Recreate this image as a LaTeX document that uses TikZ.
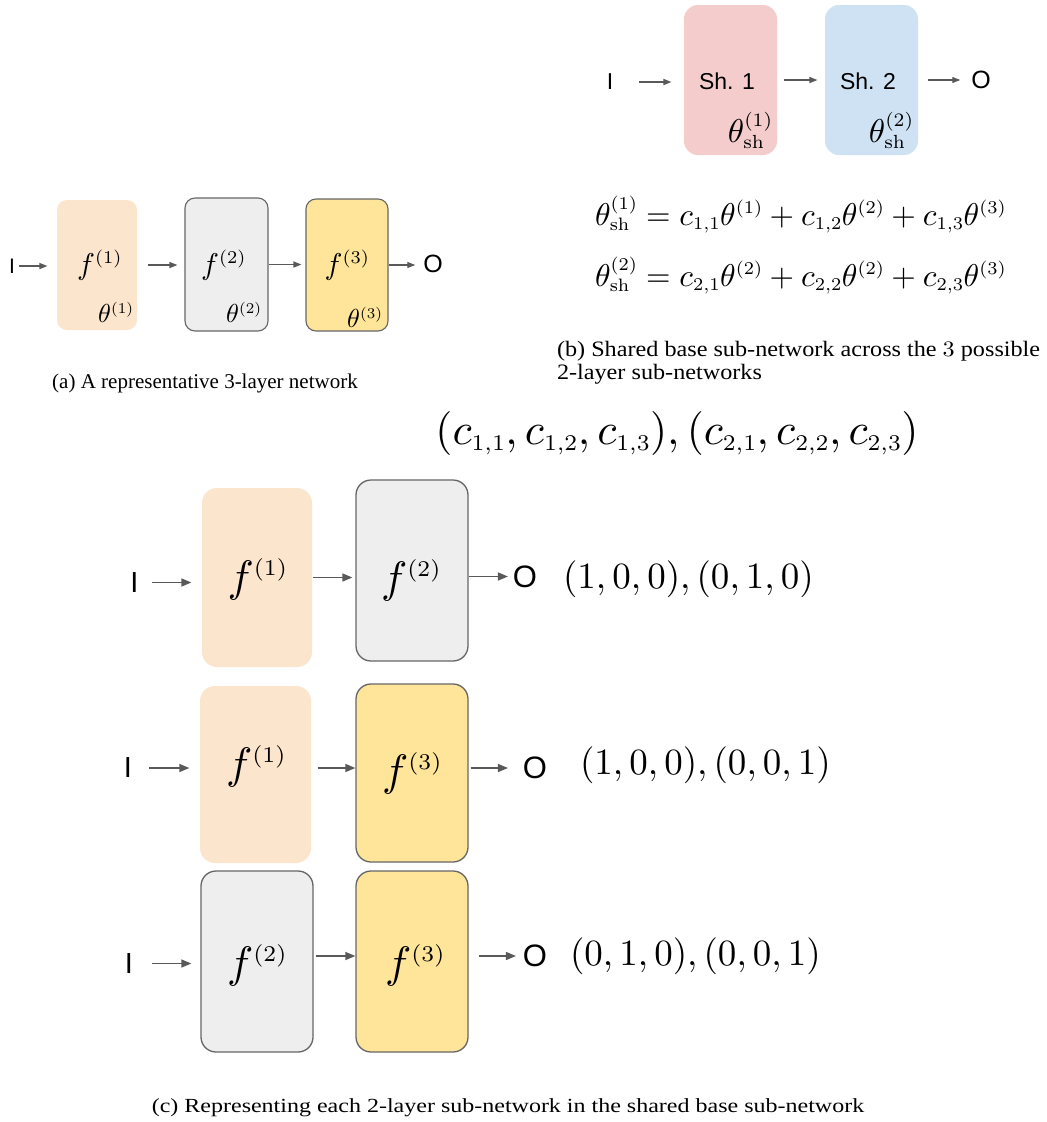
\RequirePackage{fix-cm}
\documentclass[tikz,border=0pt]{standalone}
\usepackage{amsmath}
\usepackage[no-math]{fontspec}
\newfontfamily\arialf{Liberation Sans}
\newfontfamily\timesf{Liberation Serif}
\usetikzlibrary{arrows.meta}
\DeclareFontFamily{OT1}{xcmr}{}
\DeclareFontShape{OT1}{xcmr}{m}{n}{<10> <22> <26> <30> <31.5> <33> <37> <44> cmr10 <5> <7> <11> <12> <13> <14> <15> <15.5> <18> <19> <22.5> cmr7}{}
\DeclareFontFamily{OML}{xcmm}{\skewchar\font127}
\DeclareFontShape{OML}{xcmm}{m}{it}{<10> <22> <26> <30> <31.5> <33> <37> <44> cmmi10 <5> <7> <11> <12> <13> <14> <15> <15.5> <18> <19> <22.5> cmmi7}{}
\DeclareSymbolFont{operators}{OT1}{xcmr}{m}{n}
\DeclareSymbolFont{letters}{OML}{xcmm}{m}{it}
\DeclareMathSizes{44}{44}{22.5}{15}
\DeclareMathSizes{37}{37}{22.5}{15}
\DeclareMathSizes{33}{33}{19}{13}
\DeclareMathSizes{31.5}{31.5}{18}{12}
\DeclareMathSizes{30}{30}{18}{12}
\DeclareMathSizes{26}{26}{15}{11}
\DeclareMathSizes{22}{22}{15.5}{11}
\newcommand{\fsz}[1]{\fontsize{#1}{#1}\selectfont}
\definecolor{peachc}{HTML}{FCE5CD}
\definecolor{grayc}{HTML}{EEEEEE}
\definecolor{yellowc}{HTML}{FFE599}
\definecolor{pinkc}{HTML}{F4CCCC}
\definecolor{bluec}{HTML}{CFE2F3}
\definecolor{borderc}{HTML}{666666}
\definecolor{arrowc}{HTML}{595959}
\tikzset{
  arr/.style={draw=arrowc, line width=1.2pt, -{Triangle[length=8pt,width=6pt]}},
  arrbig/.style={draw=arrowc, line width=1.4pt, -{Triangle[length=10pt,width=8pt]}},
  smallbox/.style={rounded corners=10pt, inner sep=0pt, line width=1.1pt},
  bigbox/.style={rounded corners=15pt, inner sep=0pt, line width=1.3pt},
  peachfill/.style={fill=peachc},
  grayfill/.style={fill=grayc, draw=borderc},
  yellowfill/.style={fill=yellowc, draw=borderc},
  pinkfill/.style={fill=pinkc},
  bluefill/.style={fill=bluec},
  lbl/.style={inner sep=0pt, outer sep=0pt},
}
\begin{document}
\begin{tikzpicture}[x=1pt, y=-1pt]
\useasboundingbox[fill=white] (0,0) rectangle (1047,1122);

% ---------- panel (a)
\node[smallbox, peachfill, minimum width=80pt, minimum height=130pt] (fa1) at (97,265) {};
\node[smallbox, grayfill, minimum width=83pt, minimum height=133pt] (fa2) at (226.5,264.5) {};
\node[smallbox, yellowfill, minimum width=82pt, minimum height=132pt] (fa3) at (347,265) {};
\node[lbl] (tfa1) at (99.5,265) {\fsz{30}$f^{(1)}$};
\node[lbl] (tfa2) at (223.5,265) {\fsz{30}$f^{(2)}$};
\node[lbl] (tfa3) at (347,265) {\fsz{30}$f^{(3)}$};
\node[lbl, anchor=south east] (tha1) at ([xshift=-4pt,yshift=8pt]fa1.south east) {\fsz{26}$\theta^{(1)}$};
\node[lbl, anchor=south east] (tha2) at ([xshift=-7pt,yshift=9pt]fa2.south east) {\fsz{26}$\theta^{(2)}$};
\node[lbl, anchor=south east] (tha3) at ([xshift=-6pt,yshift=4pt]fa3.south east) {\fsz{26}$\theta^{(3)}$};
\node[lbl] (Ia) at (12,266) {\arialf\fsz{21}I};
\node[lbl] (Oa) at (433,264) {\arialf\fsz{25}O};
\draw[arr, shorten <=4pt, shorten >=9pt] (Ia.east) -- (fa1.west |- Ia.east);
\draw[arr, shorten <=10pt, shorten >=7pt] (fa1.east) -- (fa2.west |- fa1.east);
\draw[arr, shorten >=4pt] (fa2.east) -- (fa3.west |- fa2.east);
\draw[arr, shorten >=8pt] (fa3.east) -- (Oa.west |- fa3.east);
\node[lbl, anchor=base] (capa) at (205,388) {\timesf\fsz{21}(a) A representative 3-layer network};

% ---------- panel (b)
\node[smallbox, rounded corners=14pt, pinkfill, minimum width=93pt, minimum height=150pt] (sh1) at (730.5,80) {};
\node[smallbox, rounded corners=14pt, bluefill, minimum width=93pt, minimum height=150pt] (sh2) at (871.5,80) {};
\node[lbl] (tsh1) at (727,81) {\arialf\fsz{23}Sh. 1};
\node[lbl] (tsh2) at (868,81) {\arialf\fsz{23}Sh. 2};
\node[lbl, anchor=south east] (thsh1) at ([xshift=-5pt,yshift=7pt]sh1.south east) {\fsz{33}$\theta^{(1)}_{\mathrm{sh}}$};
\node[lbl, anchor=south east] (thsh2) at ([xshift=-5pt,yshift=7pt]sh2.south east) {\fsz{33}$\theta^{(2)}_{\mathrm{sh}}$};
\node[lbl] (Ib) at (610,82) {\arialf\fsz{23}I};
\node[lbl] (Ob) at (981,80) {\arialf\fsz{25}O};
\draw[arr, shorten <=26pt, shorten >=12pt] (Ib.east) -- (sh1.west |- Ib.east);
\draw[arr, shorten <=6pt, shorten >=7pt] (sh1.east) -- (sh2.west);
\draw[arr, shorten <=9pt, shorten >=11pt] (sh2.east) -- (Ob.west |- sh2.east);
\node[lbl, anchor=base west] (eq1) at (595,225) {\fsz{31.5}$\theta^{(1)}_{\mathrm{sh}} = c_{1,1}\theta^{(1)} + c_{1,2}\theta^{(2)} + c_{1,3}\theta^{(3)}$};
\node[lbl, anchor=base west] (eq2) at (595,286) {\fsz{31.5}$\theta^{(2)}_{\mathrm{sh}} = c_{2,1}\theta^{(2)} + c_{2,2}\theta^{(2)} + c_{2,3}\theta^{(3)}$};
\node[lbl, anchor=base west, xscale=1.1] (capb1) at (557,356) {\timesf\fsz{22}(b) Shared base sub-network across the $3$ possible};
\node[lbl, anchor=base west, xscale=1.1] (capb2) at (557,379) {\timesf\fsz{22}2-layer sub-networks};

% ---------- panel (c)
\node[lbl, anchor=base] (hdr) at (677,444) {\fsz{44}$(c_{1,1},c_{1,2},c_{1,3}),(c_{2,1},c_{2,2},c_{2,3})$};

% row 1
\node[bigbox, peachfill, minimum width=110pt, minimum height=179pt] (fc11) at (257,577.5) {};
\node[bigbox, grayfill, minimum width=112pt, minimum height=181pt] (fc12) at (412,570.5) {};
\node[lbl] (tfc11) at (257.5,579) {\fsz{44}$f^{(1)}$};
\node[lbl] (tfc12) at (411,580) {\fsz{44}$f^{(2)}$};
\node[lbl] (Ic1) at (134.5,582.5) {\arialf\fsz{29}I};
\node[lbl] (Oc1) at (525,576.5) {\arialf\fsz{31}O};
\draw[arrbig, shorten <=13pt, shorten >=10pt] (Ic1.east) -- (fc11.west |- Ic1.east);
\draw[arrbig, shorten >=3pt] (fc11.east) -- (fc12.west |- fc11.east);
\draw[arrbig, shorten >=5pt] (fc12.east |- Oc1.west) -- (Oc1.west);
\node[lbl, anchor=base west] (tup1) at (563,588) {\fsz{37}$(1,0,0),(0,1,0)$};

% row 2
\node[bigbox, peachfill, minimum width=111pt, minimum height=177pt] (fc21) at (255.5,774.5) {};
\node[bigbox, yellowfill, minimum width=112pt, minimum height=178pt] (fc23) at (412,773) {};
\node[lbl] (tfc21) at (256,766) {\fsz{44}$f^{(1)}$};
\node[lbl] (tfc23) at (412,773) {\fsz{44}$f^{(3)}$};
\node[lbl] (Ic2) at (128,768) {\arialf\fsz{29}I};
\node[lbl] (Oc2) at (535,768) {\arialf\fsz{31}O};
\draw[arrbig, shorten <=17pt, shorten >=10pt] (Ic2.east) -- (fc21.west |- Ic2.east);
\draw[arrbig, shorten <=6pt] (fc21.east |- Ic2.east) -- (fc23.west |- Ic2.east);
\draw[arrbig, shorten <=2pt, shorten >=15pt] (fc23.east |- Oc2.west) -- (Oc2.west);
\node[lbl, anchor=base west] (tup2) at (580,774) {\fsz{37}$(1,0,0),(0,0,1)$};

% row 3
\node[bigbox, grayfill, minimum width=112pt, minimum height=181pt] (fc32) at (257,961.5) {};
\node[bigbox, yellowfill, minimum width=112pt, minimum height=181pt] (fc33) at (412,961.5) {};
\node[lbl] (tfc32) at (257,965) {\fsz{44}$f^{(2)}$};
\node[lbl] (tfc33) at (415,965) {\fsz{44}$f^{(3)}$};
\node[lbl] (Ic3) at (129,963.5) {\arialf\fsz{29}I};
\node[lbl] (Oc3) at (535,956) {\arialf\fsz{31}O};
\draw[arrbig, shorten <=19pt, shorten >=9pt] (Ic3.east) -- (fc32.west |- Ic3.east);
\draw[arrbig, shorten <=2pt] (fc32.east |- Oc3.west) -- (fc33.west |- Oc3.west);
\draw[arrbig, shorten <=10pt, shorten >=7pt] (fc33.east |- Oc3.west) -- (Oc3.west);
\node[lbl, anchor=base west] (tup3) at (570,965) {\fsz{37}$(0,1,0),(0,0,1)$};

\node[lbl, anchor=base, xscale=1.2] (capc) at (508,1112) {\timesf\fsz{20}(c) Representing each 2-layer sub-network in the shared base sub-network};
\end{tikzpicture}
\end{document}
